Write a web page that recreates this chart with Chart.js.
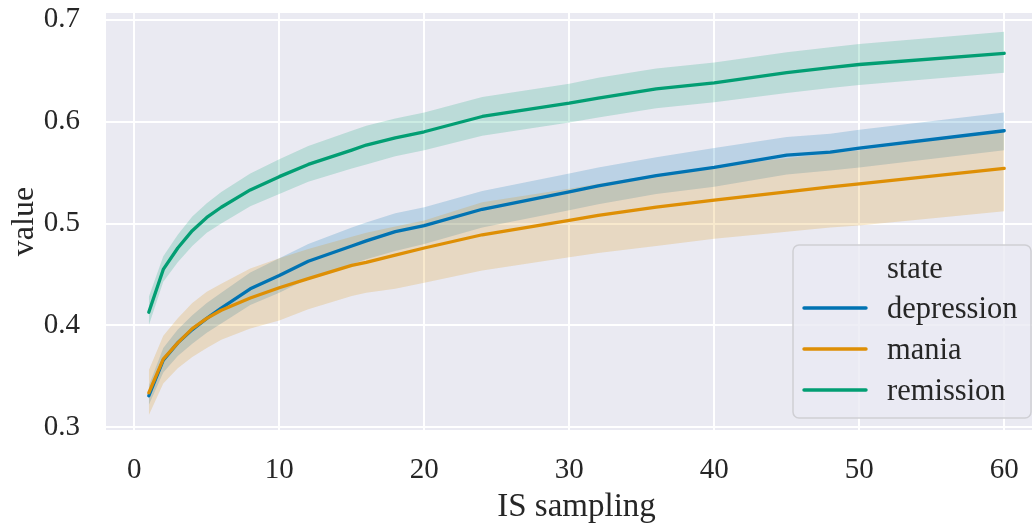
<!DOCTYPE html>
<html><head><meta charset="utf-8">
<script src="https://cdn.jsdelivr.net/npm/chart.js@4"></script>
<style>
html,body{margin:0;padding:0;background:#fff;overflow:hidden;width:1032px;height:525px}
#wrap{width:1032px;height:525px;overflow:hidden;position:relative}
canvas{display:block}
</style></head>
<body><div id="wrap"><canvas id="c" width="1047" height="525"></canvas></div>
<script>
const samples = [1,2,3,4,5,6,8,10,12,15,16,18,20,24,30,32,36,40,45,48,50,60];
const depressionMean = [0.331,0.366,0.383,0.396,0.407,0.417,0.436,0.449,0.463,0.478,0.483,0.492,0.498,0.514,0.531,0.537,0.547,0.555,0.567,0.570,0.574,0.591];
const depressionLow  = [0.322,0.354,0.370,0.382,0.393,0.402,0.420,0.432,0.446,0.460,0.465,0.473,0.480,0.496,0.513,0.519,0.529,0.536,0.548,0.552,0.555,0.572];
const depressionHigh = [0.341,0.378,0.396,0.410,0.422,0.432,0.452,0.466,0.480,0.496,0.501,0.510,0.516,0.532,0.549,0.555,0.565,0.574,0.585,0.588,0.592,0.609];
const maniaMean = [0.334,0.367,0.383,0.397,0.407,0.415,0.427,0.437,0.446,0.459,0.462,0.469,0.476,0.489,0.503,0.508,0.516,0.523,0.531,0.536,0.539,0.554];
const maniaLow  = [0.312,0.343,0.358,0.369,0.378,0.386,0.397,0.405,0.416,0.429,0.432,0.436,0.442,0.454,0.467,0.471,0.478,0.485,0.492,0.496,0.498,0.512];
const maniaHigh = [0.356,0.390,0.407,0.422,0.433,0.441,0.456,0.466,0.475,0.487,0.491,0.497,0.503,0.521,0.534,0.539,0.548,0.556,0.564,0.569,0.572,0.591];
const remissionMean = [0.413,0.455,0.476,0.493,0.506,0.516,0.533,0.546,0.558,0.572,0.577,0.584,0.590,0.605,0.618,0.623,0.632,0.638,0.648,0.653,0.656,0.667];
const remissionLow  = [0.400,0.443,0.462,0.478,0.491,0.500,0.517,0.529,0.541,0.554,0.558,0.566,0.572,0.586,0.599,0.604,0.613,0.619,0.628,0.633,0.636,0.648];
const remissionHigh = [0.428,0.468,0.489,0.507,0.520,0.531,0.549,0.563,0.576,0.591,0.596,0.603,0.609,0.624,0.637,0.643,0.652,0.658,0.668,0.673,0.676,0.688];

const seriesNames = ['depression','mania','remission'];
const xTickValues = [0,10,20,30,40,50,60];
const yTickValues = [0.3,0.4,0.5,0.6,0.7];
const legendTitle = 'state';
const xTitle = 'IS sampling';
const yTitle = 'value';

const lineColors = ['#0173B2','#DE8F05','#029E73'];
const bandColors = ['rgba(1,115,178,0.2)','rgba(222,143,5,0.2)','rgba(2,158,115,0.2)'];
const FONT = '"Liberation Serif", "Times New Roman", serif';
const TEXT = '#262626';

const series = [
  {mean: depressionMean, low: depressionLow, high: depressionHigh},
  {mean: maniaMean, low: maniaLow, high: maniaHigh},
  {mean: remissionMean, low: remissionLow, high: remissionHigh}
];
const pts = arr => samples.map((x,i)=>({x, y: arr[i]}));

const datasets = [];
series.forEach((s,i)=>{
  datasets.push({label: seriesNames[i]+'_low', data: pts(s.low), borderColor:'transparent', borderWidth:0, pointRadius:0, fill:false, order: 20-i, tension:0});
  datasets.push({label: seriesNames[i]+'_high', data: pts(s.high), borderColor:'transparent', borderWidth:0, pointRadius:0, fill:'-1', backgroundColor: bandColors[i], order: 20-i, tension:0});
});
series.forEach((s,i)=>{
  datasets.push({label: seriesNames[i], data: pts(s.mean), borderColor: lineColors[i], borderWidth: 3.3, pointRadius:0, fill:false, order: 5-i, tension:0, borderCapStyle:'round', borderJoinStyle:'round'});
});

const bgPlugin = {
  id:'bg',
  beforeDraw(chart){
    const {ctx, chartArea:a} = chart;
    ctx.save(); ctx.fillStyle='#EAEAF2'; ctx.fillRect(a.left,a.top,a.right-a.left,a.bottom-a.top); ctx.restore();
  }
};
const legendPlugin = {
  id:'customLegend',
  afterDraw(chart){
    const {ctx, chartArea:a} = chart;
    const right = a.right - 16, bottom = a.bottom - 12;
    const w = 238, h = 173;
    const left = right - w, top = bottom - h;
    ctx.save();
    ctx.beginPath();
    if (ctx.roundRect) ctx.roundRect(left, top, w, h, 6); else ctx.rect(left, top, w, h);
    ctx.fillStyle='rgba(234,234,242,0.8)'; ctx.fill();
    ctx.lineWidth=1.5; ctx.strokeStyle='#cfcfd4'; ctx.stroke();
    ctx.font = '30.5px ' + FONT; ctx.fillStyle = TEXT; ctx.textAlign='left'; ctx.textBaseline='alphabetic';
    const textX = left + 94;
    const rows = [top+23, top+63, top+104, top+145];
    ctx.fillText(legendTitle, textX, rows[0]+10);
    seriesNames.forEach((n,i)=>{
      const y = rows[i+1];
      ctx.beginPath(); ctx.moveTo(left+11,y); ctx.lineTo(left+73,y);
      ctx.strokeStyle=lineColors[i]; ctx.lineWidth=3.4; ctx.lineCap='round'; ctx.stroke();
      ctx.fillText(n, textX, y+10);
    });
    ctx.restore();
  }
};

new Chart(document.getElementById('c'), {
  type:'line',
  data:{datasets},
  plugins:[bgPlugin, legendPlugin],
  options:{
    responsive:false, animation:false, devicePixelRatio:1,
    layout:{padding:{top:13,left:0,right:0,bottom:0}},
    plugins:{legend:{display:false}, tooltip:{enabled:false}, filler:{propagate:false}},
    elements:{line:{tension:0}},
    scales:{
      x:{type:'linear', min:-1.95, max:62.95,
        afterBuildTicks: s => { s.ticks = xTickValues.map(v=>({value:v})); },
        afterFit: s => { s.height = 95; s.paddingLeft = 0; s.paddingRight = 0; },
        grid:{color:'#ffffff', lineWidth:2, drawTicks:false},
        border:{display:false},
        ticks:{font:{family:FONT,size:29}, color:TEXT, padding:23, maxRotation:0, callback: v => String(v)},
        title:{display:true, text:xTitle, font:{family:FONT,size:33}, color:TEXT, padding:{top:0,bottom:-2}}
      },
      y:{type:'linear', min:0.2975, max:0.7065,
        afterBuildTicks: s => { s.ticks = yTickValues.map(v=>({value:v})); },
        afterFit: s => { s.width = 106; s.paddingTop = 0; s.paddingBottom = 0; },
        grid:{color:'#ffffff', lineWidth:2, drawTicks:false},
        border:{display:false},
        ticks:{font:{family:FONT,size:29}, color:TEXT, padding:26, callback: v => Number(v).toFixed(1)},
        title:{display:true, text:yTitle, font:{family:FONT,size:32}, color:TEXT, padding:{top:5,bottom:0}}
      }
    }
  }
});
</script>
</body></html>
